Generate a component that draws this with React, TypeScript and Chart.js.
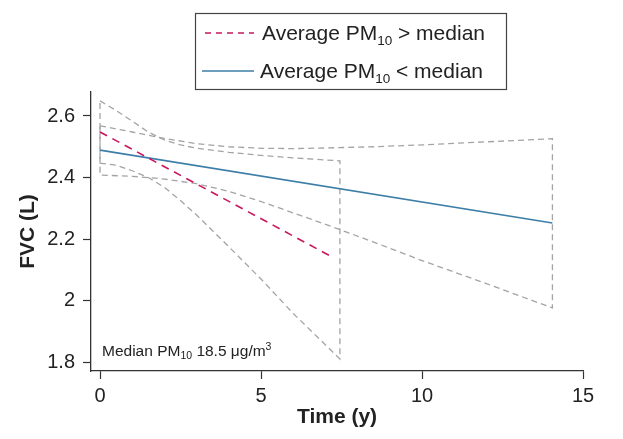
import React, { useEffect, useRef } from "react";
import { Chart, registerables } from "chart.js";

Chart.register(...registerables);

// ---- Data ----
const xTicks = [0, 5, 10, 15];
const yTicks = [1.8, 2, 2.2, 2.4, 2.6];

// Average PM10 > median (fitted line)
const highTimes = [0, 7.15];
const highFvc = [2.548, 2.145];
// Average PM10 < median (fitted line)
const lowTimes = [0, 14.05];
const lowFvc = [2.489, 2.252];

// Confidence band, PM10 > median
const highBandTimes = [0, 0.5, 1, 1.5, 2, 2.5, 3, 4, 5, 6, 7.45];
const highBandUpper = [2.649, 2.618, 2.583, 2.548, 2.522, 2.506, 2.495, 2.482, 2.472, 2.464, 2.454];
const highBandLower = [2.447, 2.44, 2.422, 2.4, 2.368, 2.325, 2.278, 2.175, 2.07, 1.958, 1.81];

// Confidence band, PM10 < median
const lowBandTimes = [0, 1, 2, 3, 4, 5, 6, 7, 8.5, 10, 12, 14.05];
const lowBandUpper = [2.568, 2.548, 2.527, 2.51, 2.5, 2.495, 2.494, 2.496, 2.5, 2.506, 2.516, 2.526];
const lowBandLower = [2.408, 2.404, 2.395, 2.38, 2.355, 2.322, 2.285, 2.248, 2.19, 2.13, 2.055, 1.976];

const RED = "#c8175d";
const BLUE = "#3d7ea8";
const GREY = "#a4a4a4";
const FONT = "'Liberation Sans', Arial, Helvetica, sans-serif";

function band(t: number[], up: number[], lo: number[]) {
  const top = t.map((x, i) => ({ x, y: up[i] }));
  const bottom = t.map((x, i) => ({ x, y: lo[i] })).reverse();
  return [...top, ...bottom, { x: t[0], y: up[0] }];
}

function line(t: number[], v: number[]) {
  return t.map((x, i) => ({ x, y: v[i] }));
}

const overlayPlugin = {
  id: "overlay",
  afterDraw(chart: any) {
    const ctx = chart.ctx as CanvasRenderingContext2D;
    const area = chart.chartArea;
    ctx.save();
    const drawRich = (
      parts: { text: string; size: number; dy: number }[],
      x: number,
      y: number,
      color: string
    ) => {
      let cx = x;
      ctx.fillStyle = color;
      ctx.textBaseline = "alphabetic";
      ctx.textAlign = "left";
      for (const p of parts) {
        ctx.font = `${p.size}px ${FONT}`;
        ctx.fillText(p.text, cx, y + p.dy);
        cx += ctx.measureText(p.text).width;
      }
    };
    // Annotation inside plot
    drawRich(
      [
        { text: "Median PM", size: 15.5, dy: 0 },
        { text: "10", size: 10.5, dy: 3 },
        { text: " 18.5 \u03bcg/m", size: 15.5, dy: 0 },
        { text: "3", size: 10.5, dy: -6 },
      ],
      area.left + 11,
      area.bottom - 15,
      "#222"
    );

    // Legend box
    const bx = 187, by = 5, bw = 311, bh = 76;
    ctx.strokeStyle = "#444";
    ctx.lineWidth = 1.2;
    ctx.strokeRect(bx + 0.5, by + 0.5, bw, bh);

    // Entry 1: dashed red
    ctx.strokeStyle = RED;
    ctx.lineWidth = 1.6;
    ctx.setLineDash([6, 5]);
    ctx.beginPath();
    ctx.moveTo(197, 25);
    ctx.lineTo(246, 25);
    ctx.stroke();
    ctx.setLineDash([]);
    drawRich(
      [
        { text: "Average PM", size: 21, dy: 0 },
        { text: "10", size: 13.5, dy: 5 },
        { text: " > median", size: 21, dy: 0 },
      ],
      254,
      32,
      "#222"
    );

    // Entry 2: solid blue
    ctx.strokeStyle = BLUE;
    ctx.lineWidth = 1.6;
    ctx.beginPath();
    ctx.moveTo(194, 63);
    ctx.lineTo(246, 63);
    ctx.stroke();
    drawRich(
      [
        { text: "Average PM", size: 21, dy: 0 },
        { text: "10", size: 13.5, dy: 5 },
        { text: " < median", size: 21, dy: 0 },
      ],
      252,
      70,
      "#222"
    );
    ctx.restore();
  },
};

export default function App() {
  const ref = useRef<HTMLCanvasElement>(null);

  useEffect(() => {
    if (!ref.current) return;
    Chart.defaults.font.family = FONT;
    const chart = new Chart(ref.current, {
      type: "scatter",
      data: {
        datasets: [
          {
            label: "Average PM10 > median",
            data: line(highTimes, highFvc),
            showLine: true,
            borderColor: RED,
            borderWidth: 1.6,
            borderDash: [8, 6],
            pointRadius: 0,
            order: 0,
          },
          {
            label: "Average PM10 < median",
            data: line(lowTimes, lowFvc),
            showLine: true,
            borderColor: BLUE,
            borderWidth: 1.6,
            pointRadius: 0,
            order: 1,
          },
          {
            label: "CI high",
            data: band(highBandTimes, highBandUpper, highBandLower),
            showLine: true,
            borderColor: GREY,
            borderWidth: 1.3,
            borderDash: [6, 4],
            pointRadius: 0,
            order: 2,
          },
          {
            label: "CI low",
            data: band(lowBandTimes, lowBandUpper, lowBandLower),
            showLine: true,
            borderColor: GREY,
            borderWidth: 1.3,
            borderDash: [6, 4],
            pointRadius: 0,
            order: 3,
          },
        ],
      },
      options: {
        animation: false,
        responsive: true,
        maintainAspectRatio: false,
        layout: { padding: { top: 84, right: 32, left: 0, bottom: 0 } },
        plugins: {
          legend: { display: false },
          tooltip: { enabled: false },
        },
        scales: {
          x: {
            type: "linear",
            min: -0.28,
            max: 15,
            afterBuildTicks: (s: any) => {
              s.ticks = xTicks.map((v) => ({ value: v }));
            },
            afterFit: (s: any) => {
              s.height = 60;
            },
            ticks: {
              font: { size: 20 },
              color: "#222",
              padding: 5,
              maxRotation: 0,
              callback: (v: any) => String(v),
            },
            grid: {
              drawOnChartArea: false,
              drawTicks: true,
              tickLength: 8,
              tickColor: "#333",
              tickWidth: 1.2,
            },
            border: { display: true, color: "#333", width: 1.3 },
            title: {
              display: true,
              text: "Time (y)",
              font: { size: 21, weight: "bold" },
              color: "#222",
              padding: { top: 0, bottom: 1 },
            },
          },
          y: {
            type: "linear",
            min: 1.771,
            max: 2.678,
            afterBuildTicks: (s: any) => {
              s.ticks = yTicks.map((v) => ({ value: v }));
            },
            afterFit: (s: any) => {
              s.width = 83;
            },
            ticks: {
              font: { size: 20 },
              color: "#222",
              padding: 8,
              callback: (v: any) => String(Math.round(Number(v) * 10) / 10),
            },
            grid: {
              drawOnChartArea: false,
              drawTicks: true,
              tickLength: 8,
              tickColor: "#333",
              tickWidth: 1.2,
            },
            border: { display: true, color: "#333", width: 1.3 },
            title: {
              display: true,
              text: "FVC (L)",
              font: { size: 21, weight: "bold" },
              color: "#222",
              padding: { top: 8, bottom: 0 },
            },
          },
        },
      },
      plugins: [overlayPlugin],
    });
    return () => chart.destroy();
  }, []);

  return (
    <div style={{ width: 607, height: 423, position: "relative" }}>
      <canvas ref={ref} />
    </div>
  );
}
